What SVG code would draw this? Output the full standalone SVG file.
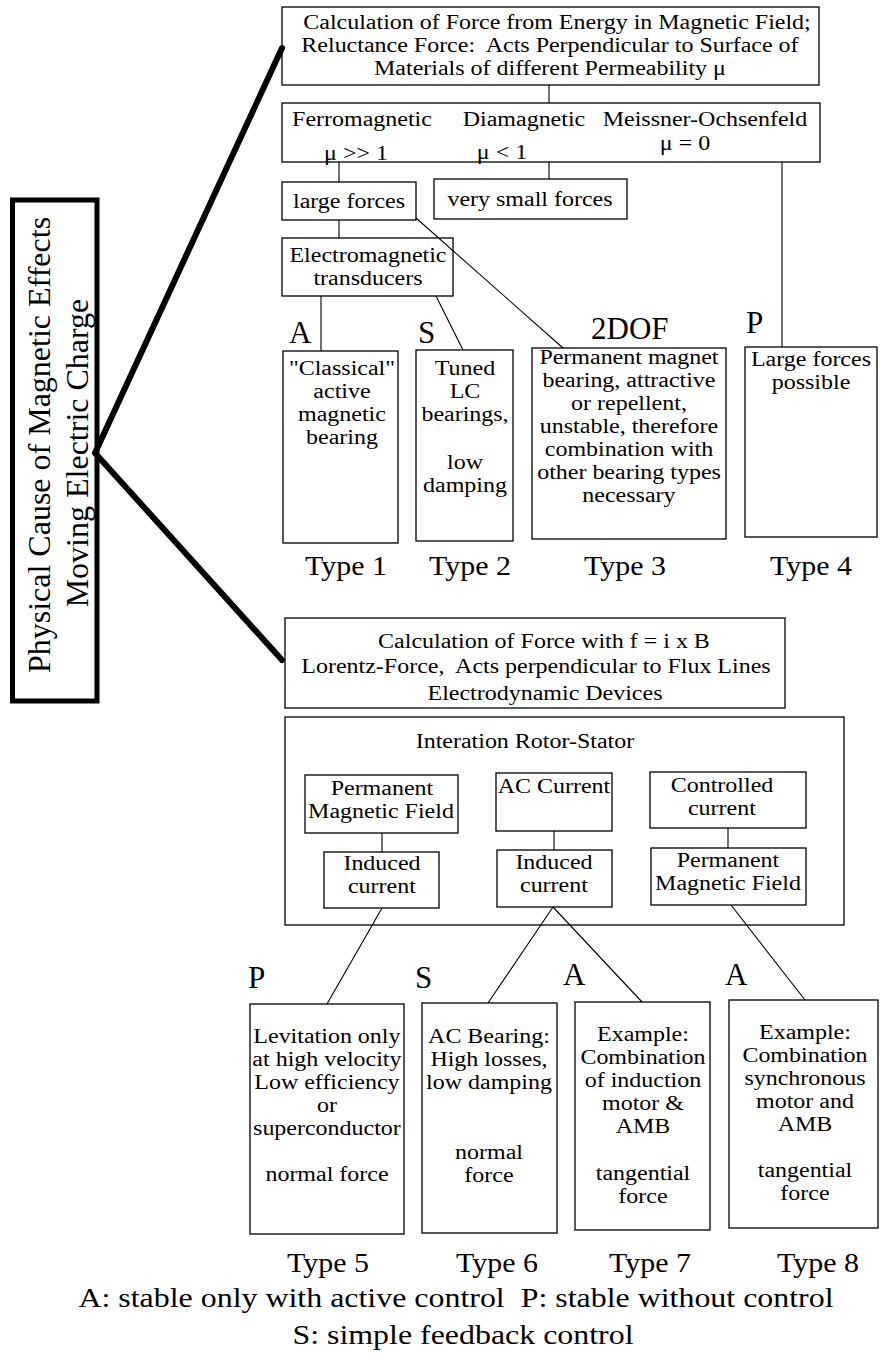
<svg xmlns="http://www.w3.org/2000/svg" width="880" height="1358" viewBox="0 0 880 1358">
<style>
text{font-family:"Liberation Serif","Times New Roman",serif;fill:#000}
.t{font-size:20.5px;text-anchor:middle;transform-box:fill-box;transform-origin:center;transform:scale(1.17,1)}
.ty{font-size:28px;text-anchor:middle;transform-box:fill-box;transform-origin:center;transform:scale(1.07,1)}
.ft{font-size:28px;text-anchor:middle;transform-box:fill-box;transform-origin:center;transform:scale(1.14,1)}
.lab{font-size:31px}
.rot{font-size:32px;text-anchor:middle}
.box{fill:none;stroke:#000;stroke-width:1.3}
.ln{fill:none;stroke:#000;stroke-width:1.1}
.thick{fill:none;stroke:#000;stroke-width:6;stroke-linecap:round}
</style>
<rect width="880" height="1358" fill="#fff"/>

<g id="cause">
<rect class="box" x="12.5" y="200" width="84.5" height="501" style="stroke-width:5"/>
<text class="rot" transform="translate(50,445) rotate(-90)">Physical Cause of Magnetic Effects</text>
<text class="rot" transform="translate(88,453) rotate(-90)">Moving Electric Charge</text>
</g>

<g id="reluctance">
<rect class="box" x="282" y="7" width="537" height="78"/>
<text class="t" x="557" y="29">Calculation of Force from Energy in Magnetic Field;</text>
<text class="t" x="550" y="52" xml:space="preserve">Reluctance Force:  Acts Perpendicular to Surface of</text>
<text class="t" x="550" y="75">Materials of different Permeability μ</text>
</g>

<g id="materials">
<rect class="box" x="282" y="103" width="538" height="59"/>
<text class="t" x="362" y="126">Ferromagnetic</text>
<text class="t" x="524" y="126">Diamagnetic</text>
<text class="t" x="705" y="126">Meissner-Ochsenfeld</text>
<text class="t" x="356" y="160">μ &gt;&gt; 1</text>
<text class="t" x="502" y="159">μ &lt; 1</text>
<text class="t" x="685" y="150">μ = 0</text>
</g>

<g id="large-forces">
<rect class="box" x="282" y="182" width="134" height="38"/>
<text class="t" x="349" y="208">large forces</text>
</g>

<g id="small-forces">
<rect class="box" x="434" y="179" width="193" height="40"/>
<text class="t" x="530" y="206">very small forces</text>
</g>

<g id="transducers">
<rect class="box" x="282" y="238" width="171" height="58"/>
<text class="t" x="368" y="262">Electromagnetic</text>
<text class="t" x="368" y="285">transducers</text>
</g>

<g id="type1">
<text class="lab" x="289" y="343">A</text>
<rect class="box" x="283" y="351" width="115" height="192"/>
<text class="t" x="342" y="375">"Classical"</text>
<text class="t" x="342" y="398">active</text>
<text class="t" x="342" y="421">magnetic</text>
<text class="t" x="342" y="444">bearing</text>
<text class="ty" x="346" y="575">Type 1</text>
</g>

<g id="type2">
<text class="lab" x="418" y="343">S</text>
<rect class="box" x="416" y="350" width="97" height="191"/>
<text class="t" x="465" y="375">Tuned</text>
<text class="t" x="465" y="398">LC</text>
<text class="t" x="465" y="421">bearings,</text>
<text class="t" x="465" y="469">low</text>
<text class="t" x="465" y="492">damping</text>
<text class="ty" x="470" y="575">Type 2</text>
</g>

<g id="type3">
<text class="lab" x="591" y="339">2DOF</text>
<rect class="box" x="532" y="348" width="194" height="191"/>
<text class="t" x="629" y="364">Permanent magnet</text>
<text class="t" x="629" y="387">bearing, attractive</text>
<text class="t" x="629" y="410">or repellent,</text>
<text class="t" x="629" y="433">unstable, therefore</text>
<text class="t" x="629" y="456">combination with</text>
<text class="t" x="629" y="479">other bearing types</text>
<text class="t" x="629" y="502">necessary</text>
<text class="ty" x="625" y="575">Type 3</text>
</g>

<g id="type4">
<text class="lab" x="746" y="333">P</text>
<rect class="box" x="745" y="347" width="132" height="190"/>
<text class="t" x="811" y="366">Large forces</text>
<text class="t" x="811" y="389">possible</text>
<text class="ty" x="811" y="575">Type 4</text>
</g>

<g id="lorentz">
<rect class="box" x="285" y="618" width="500" height="90"/>
<text class="t" x="544" y="648">Calculation of Force with f = i x B</text>
<text class="t" x="536" y="673" xml:space="preserve">Lorentz-Force,  Acts perpendicular to Flux Lines</text>
<text class="t" x="545" y="700">Electrodynamic Devices</text>
</g>

<g id="interaction">
<rect class="box" x="285" y="717" width="559" height="208"/>
<text class="t" x="525" y="748">Interation Rotor-Stator</text>
</g>

<g id="pm-field-1">
<rect class="box" x="305" y="775" width="153" height="58"/>
<text class="t" x="382" y="795">Permanent</text>
<text class="t" x="381" y="818">Magnetic Field</text>
</g>

<g id="ac-current">
<rect class="box" x="496" y="773" width="116" height="58"/>
<text class="t" x="554" y="793">AC Current</text>
</g>

<g id="controlled-current">
<rect class="box" x="650" y="772" width="156" height="56"/>
<text class="t" x="722" y="792">Controlled</text>
<text class="t" x="722" y="815">current</text>
</g>

<g id="induced-1">
<rect class="box" x="324" y="852" width="115" height="56"/>
<text class="t" x="382" y="870">Induced</text>
<text class="t" x="382" y="893">current</text>
</g>

<g id="induced-2">
<rect class="box" x="497" y="850" width="115" height="57"/>
<text class="t" x="554" y="869">Induced</text>
<text class="t" x="554" y="892">current</text>
</g>

<g id="pm-field-2">
<rect class="box" x="651" y="848" width="155" height="57"/>
<text class="t" x="728" y="867">Permanent</text>
<text class="t" x="728" y="890">Magnetic Field</text>
</g>

<g id="type5">
<text class="lab" x="248" y="988">P</text>
<rect class="box" x="250" y="1004" width="154" height="230"/>
<text class="t" x="327" y="1043">Levitation only</text>
<text class="t" x="327" y="1066">at high velocity</text>
<text class="t" x="327" y="1089">Low efficiency</text>
<text class="t" x="327" y="1112">or</text>
<text class="t" x="327" y="1135">superconductor</text>
<text class="t" x="327" y="1181">normal force</text>
<text class="ty" x="328" y="1272">Type 5</text>
</g>

<g id="type6">
<text class="lab" x="415" y="988">S</text>
<rect class="box" x="422" y="1003" width="135" height="230"/>
<text class="t" x="489" y="1043">AC Bearing:</text>
<text class="t" x="489" y="1066">High losses,</text>
<text class="t" x="489" y="1089">low damping</text>
<text class="t" x="489" y="1159">normal</text>
<text class="t" x="489" y="1182">force</text>
<text class="ty" x="497" y="1272">Type 6</text>
</g>

<g id="type7">
<text class="lab" x="563" y="985">A</text>
<rect class="box" x="575" y="1002" width="135" height="228"/>
<text class="t" x="643" y="1041">Example:</text>
<text class="t" x="643" y="1064">Combination</text>
<text class="t" x="643" y="1087">of induction</text>
<text class="t" x="643" y="1110">motor &amp;</text>
<text class="t" x="643" y="1133">AMB</text>
<text class="t" x="643" y="1180">tangential</text>
<text class="t" x="643" y="1203">force</text>
<text class="ty" x="650" y="1272">Type 7</text>
</g>

<g id="type8">
<text class="lab" x="725" y="985">A</text>
<rect class="box" x="729" y="1000" width="149" height="228"/>
<text class="t" x="805" y="1039">Example:</text>
<text class="t" x="805" y="1062">Combination</text>
<text class="t" x="805" y="1085">synchronous</text>
<text class="t" x="805" y="1108">motor and</text>
<text class="t" x="805" y="1131">AMB</text>
<text class="t" x="805" y="1177">tangential</text>
<text class="t" x="805" y="1200">force</text>
<text class="ty" x="818" y="1272">Type 8</text>
</g>

<g id="legend">
<text class="ft" x="456" y="1307" xml:space="preserve">A: stable only with active control  P: stable without control</text>
<text class="ft" x="463" y="1344">S: simple feedback control</text>
</g>

<g id="connectors">
<path class="thick" d="M95,453 L282,48 M95,453 L282,660"/>
<path class="ln" d="M549,85 V103 M339,162 V182 M549,162 V179 M782,162 V347 M339,220 V238 M416,218 L563,348 M321,296 V351 M436,296 L463,350"/>
<path class="ln" d="M382,833 V852 M554,831 V850 M728,828 V848"/>
<path class="ln" d="M382,908 L327,1004 M553,907 L488,1003 M553,907 L642,1002 M731,905 L805,1000"/>
</g>
</svg>
